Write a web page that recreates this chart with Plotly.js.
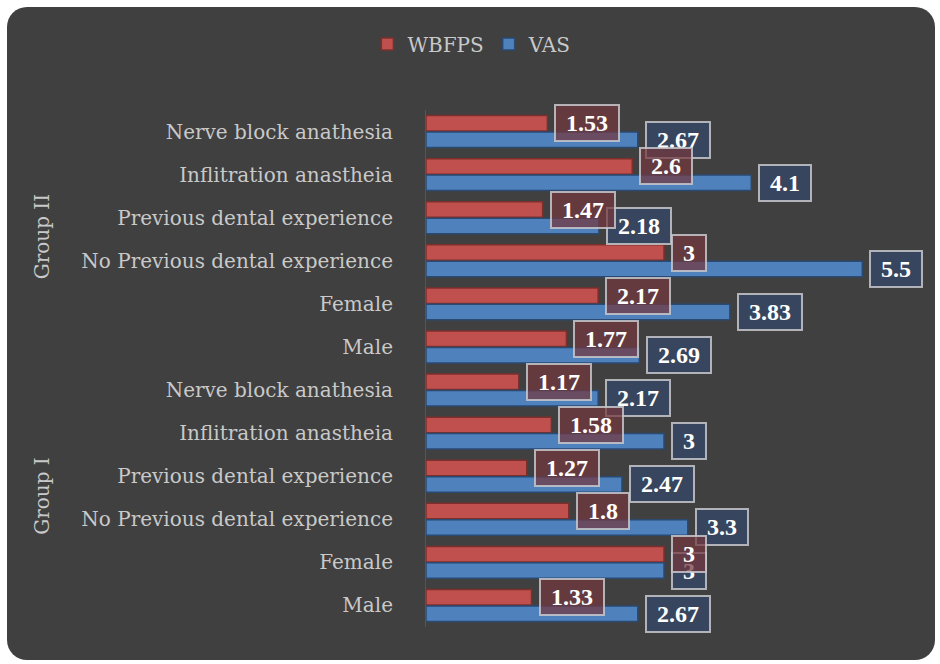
<!DOCTYPE html>
<html>
<head>
<meta charset="utf-8">
<script src="https://cdn.plot.ly/plotly-3.0.1.min.js"></script>
<style>
  html, body { margin: 0; padding: 0; background: #ffffff; }
  #bg { position: absolute; left: 7px; top: 7px; width: 928px; height: 653px; border-radius: 20px; background: #404040; }
  #chart { position: absolute; left: 0; top: 0; width: 940px; height: 664px; }
</style>
</head>
<body>
<div id="bg"></div>
<div id="chart"></div>
<script>
// Categories listed bottom-to-top
const categories = [
  "Male", "Female", "No Previous dental experience", "Previous dental experience",
  "Inflitration anastheia", "Nerve block anathesia",
  "Male", "Female", "No Previous dental experience", "Previous dental experience",
  "Inflitration anastheia", "Nerve block anathesia"
];
const tickLabels = categories.slice();
const groups = ["Group I", "Group II"];
const wbfps = [1.33, 3, 1.8, 1.27, 1.58, 1.17, 1.77, 2.17, 3, 1.47, 2.6, 1.53];
const vas   = [2.67, 3, 3.3, 2.47, 3, 2.17, 2.69, 3.83, 5.5, 2.18, 4.1, 2.67];

const idx = categories.map((_, i) => i);
const OFF = 0.19;
const BW = 0.36;

const fontFam = "DejaVu Serif, Liberation Serif, serif";
const txtColor = "#c9c9c9";

const traces = [
  {
    type: "bar", orientation: "h", name: "WBFPS",
    x: wbfps, y: idx.map(i => i + OFF), width: BW,
    marker: { color: "#c0504d", line: { color: "#7d2f2c", width: 1.5 } },
    hoverinfo: "x"
  },
  {
    type: "bar", orientation: "h", name: "VAS",
    x: vas, y: idx.map(i => i - OFF), width: BW,
    marker: { color: "#4f81bd", line: { color: "#2a4a72", width: 1.5 } },
    hoverinfo: "x"
  }
];

const labelFont = { family: "Liberation Serif, serif", size: 24, color: "#ffffff", weight: "bold" };
const annotations = [];
vas.forEach((v, i) => {
  annotations.push({
    x: v, y: i - OFF, xref: "x", yref: "y", xanchor: "left", yanchor: "middle",
    xshift: 7, showarrow: false,
    text: "\u00a0" + String(v) + "\u00a0",
    font: labelFont,
    bgcolor: "rgba(52,72,102,0.78)", bordercolor: "rgba(200,200,205,0.85)", borderwidth: 2, borderpad: 4
  });
});
wbfps.forEach((v, i) => {
  annotations.push({
    x: v, y: i + OFF, xref: "x", yref: "y", xanchor: "left", yanchor: "middle",
    xshift: 7, showarrow: false,
    text: "\u00a0" + String(v) + "\u00a0",
    font: labelFont,
    bgcolor: "rgba(115,55,62,0.72)", bordercolor: "rgba(200,200,205,0.85)", borderwidth: 2, borderpad: 4
  });
});
// group labels
groups.forEach((g, k) => {
  annotations.push({
    x: 0, xref: "paper", xshift: -384, y: k * 6 + 2.5, yref: "y", yshift: k === 1 ? 2 : 2,
    text: g, textangle: -90, showarrow: false, xanchor: "center", yanchor: "middle",
    font: { family: fontFam, size: 20, color: txtColor }
  });
});

const layout = {
  width: 940, height: 664,
  paper_bgcolor: "rgba(0,0,0,0)", plot_bgcolor: "rgba(0,0,0,0)",
  margin: { l: 426, r: 38, t: 110, b: 37 },
  barmode: "overlay",
  showlegend: true,
  legend: {
    orientation: "h", x: 0.502, xref: "container", xanchor: "center",
    y: 1 - 44 / 664, yref: "container", yanchor: "middle",
    font: { family: fontFam, size: 20, color: txtColor },
    traceorder: "normal", bgcolor: "rgba(0,0,0,0)", itemwidth: 30
  },
  xaxis: {
    range: [0, 6], visible: false, showgrid: false, zeroline: false, fixedrange: true
  },
  yaxis: {
    range: [-0.5, 11.5], tickmode: "array", tickvals: idx, ticktext: tickLabels,
    showgrid: false, zeroline: false, showline: true, linecolor: "#555555", linewidth: 1,
    ticks: "", ticklabelstandoff: 28,
    tickfont: { family: fontFam, size: 20, color: txtColor }, fixedrange: true
  },
  annotations: annotations
};

Plotly.newPlot("chart", traces, layout, { displayModeBar: false, staticPlot: true });
</script>
</body>
</html>
